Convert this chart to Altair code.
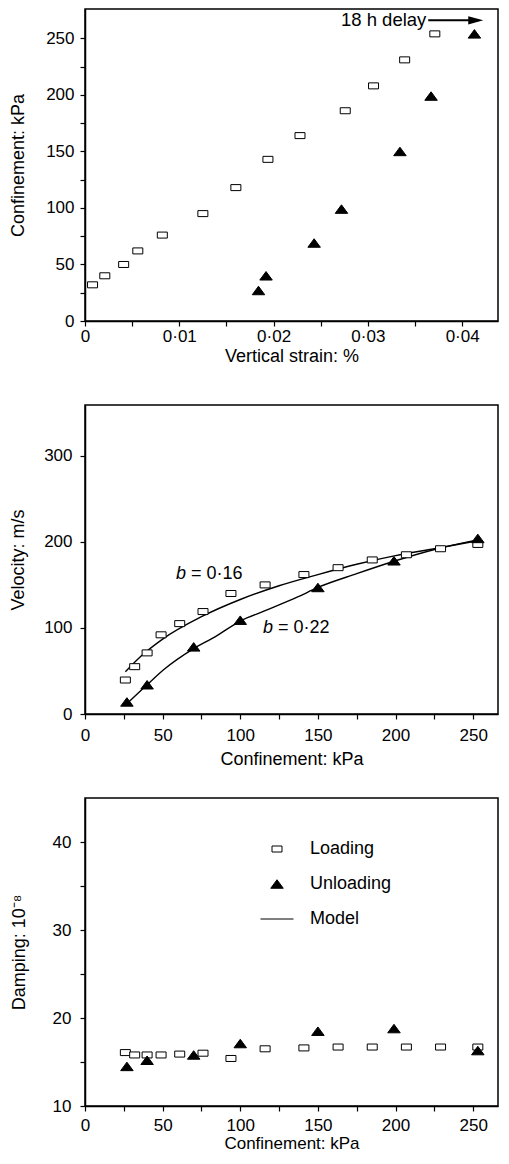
import altair as alt
import pandas as pd

FONT = "Liberation Sans"

# ---------------- data ----------------
series_names = ["Loading", "Unloading", "Model"]

# Panel 1: confinement vs vertical strain
p1_load_strain = [0.0008, 0.0021, 0.0041, 0.0056, 0.0082, 0.0125, 0.0160, 0.0194, 0.0228, 0.0276, 0.0306, 0.0339, 0.0371]
p1_load_conf = [32, 40, 50, 62, 76, 95, 118, 143, 164, 186, 208, 231, 254]
p1_unload_strain = [0.0184, 0.0192, 0.0243, 0.0272, 0.0334, 0.0367, 0.0413]
p1_unload_conf = [27, 40, 69, 99, 150, 199, 254]
delay_label = ["18 h delay"]
delay_text_x = [0.0362]
delay_y = [266]
arrow_start_x = [0.0364]
arrow_end_x = [0.0418]
arrow_head_x = [0.04144]

# Panel 2: velocity vs confinement
load_conf = [26, 32, 40, 49, 61, 76, 94, 116, 141, 163, 185, 207, 229, 253]
load_vel = [39.5, 55, 71, 92, 105, 119, 140, 150, 162, 170, 179, 185, 192, 197]
unload_conf = [27, 40, 70, 100, 150, 199, 253]
unload_vel = [14, 34, 78, 109, 147, 178, 204]
model_load_conf = [26, 36, 50, 75, 100, 125, 150, 175, 200, 225, 252]
model_load_vel = [49, 67, 87, 113, 133, 149, 162, 174, 184, 192, 201]
model_unload_conf = [27, 40, 51, 70, 84, 100, 116, 137, 150, 175, 200, 227, 252]
model_unload_vel = [12, 34, 52, 76, 90, 108, 120, 136, 147, 163, 178, 192, 202]
b_labels = ["= 0·16", "= 0·22"]
b_label_x = [58.6, 114.7]
b_label_y = [157, 94]

# Panel 3: damping vs confinement
load_damp = [16.07, 15.8, 15.8, 15.8, 15.9, 16.0, 15.4, 16.5, 16.6, 16.7, 16.7, 16.7, 16.7, 16.7]
unload_damp = [14.5, 15.2, 15.8, 17.1, 18.5, 18.8, 16.3]

# ---------------- styles ----------------
RECT = "M-1,-0.6H1V0.6H-1Z"
TRI = "M0,-0.85L1.25,0.85L-1.25,0.85Z"
LINE = "M-3.3,0H3.3"
ARROW = "M1,0L-1,-0.55L-1,0.55Z"

PW = 413  # plot width

shape_scale = alt.Scale(domain=series_names, range=[RECT, TRI, LINE])
fill_scale = alt.Scale(domain=series_names, range=["white", "black", "white"])
stroke_scale = alt.Scale(domain=series_names, range=["black", "black", "black"])

minor50 = "datum.value % 50 == 0 ? datum.label : ''"


def pts_df(xa, ya, xb, yb):
    return pd.concat([
        pd.DataFrame({"x": xa, "y": ya, "series": "Loading"}),
        pd.DataFrame({"x": xb, "y": yb, "series": "Unloading"}),
    ], ignore_index=True)


def point_layer(df, X, Y, legend=None):
    return alt.Chart(df).mark_point(filled=True, strokeWidth=1, size=100, opacity=1).encode(
        x=X, y=Y,
        shape=alt.Shape("series:N", scale=shape_scale, legend=legend),
        fill=alt.Fill("series:N", scale=fill_scale, legend=legend),
        stroke=alt.Stroke("series:N", scale=stroke_scale, legend=legend),
    )


# ---------------- panel 1 ----------------
X1 = alt.X("x:Q", scale=alt.Scale(domain=[0, 0.0438], nice=False, zero=False),
           axis=alt.Axis(title="Vertical strain: %",
                         values=[0, 0.005, 0.01, 0.015, 0.02, 0.025, 0.03, 0.035, 0.04],
                         labelExpr="abs(datum.value*100 - round(datum.value*100)) < 0.001 ? (datum.value == 0 ? '0' : replace(format(datum.value, '.2f'), '.', '·')) : ''",
                         labelPadding=2, titlePadding=3))
Y1 = alt.Y("y:Q", scale=alt.Scale(domain=[0, 276], nice=False),
           axis=alt.Axis(title="Confinement: kPa", values=list(range(0, 251, 25)),
                         labelExpr=minor50, labelPadding=6, titlePadding=18))

p1_points = point_layer(pts_df(p1_load_strain, p1_load_conf, p1_unload_strain, p1_unload_conf), X1, Y1)
p1_text = alt.Chart(pd.DataFrame({"x": delay_text_x, "y": delay_y, "t": delay_label})).mark_text(
    align="right", baseline="middle", fontSize=18.5, font=FONT, color="black").encode(x=X1, y=Y1, text="t:N")
p1_arrow = alt.Chart(pd.DataFrame({"x": arrow_start_x, "xe": arrow_end_x, "y": delay_y})).mark_rule(
    color="black", strokeWidth=2).encode(x=X1, x2="xe:Q", y=Y1)
p1_head = alt.Chart(pd.DataFrame({"x": arrow_head_x, "y": delay_y})).mark_point(
    shape=ARROW, size=225, filled=True, color="black", opacity=1).encode(x=X1, y=Y1)
p1 = alt.layer(p1_points, p1_arrow, p1_head, p1_text).properties(width=PW, height=312)

# ---------------- panel 2 ----------------
X2 = alt.X("x:Q", scale=alt.Scale(domain=[0, 266], nice=False),
           axis=alt.Axis(title="Confinement: kPa", values=list(range(0, 251, 25)),
                         labelExpr=minor50, labelPadding=8, titlePadding=7))
Y2 = alt.Y("y:Q", scale=alt.Scale(domain=[0, 359], nice=False),
           axis=alt.Axis(title="Velocity: m/s", values=[0, 100, 200, 300],
                         labelPadding=8, titlePadding=16))

model_df = pd.concat([
    pd.DataFrame({"x": model_load_conf, "y": model_load_vel, "curve": "load"}),
    pd.DataFrame({"x": model_unload_conf, "y": model_unload_vel, "curve": "unload"}),
], ignore_index=True)
p2_lines = alt.Chart(model_df).mark_line(color="black", strokeWidth=1.4, interpolate="monotone").encode(
    x=X2, y=Y2, detail="curve:N")
p2_points = point_layer(pts_df(load_conf, load_vel, unload_conf, unload_vel), X2, Y2)
ann_df = pd.DataFrame({"x": b_label_x, "y": b_label_y, "t": b_labels, "b": ["b", "b"]})
p2_b = alt.Chart(ann_df).mark_text(align="left", baseline="alphabetic", fontSize=18, font=FONT,
                                   fontStyle="italic", color="black").encode(x=X2, y=Y2, text="b:N")
p2_rest = alt.Chart(ann_df).mark_text(align="left", baseline="alphabetic", fontSize=18, font=FONT,
                                      dx=15, color="black").encode(x=X2, y=Y2, text="t:N")
p2 = alt.layer(p2_lines, p2_points, p2_b, p2_rest).properties(width=PW, height=309)

# ---------------- panel 3 ----------------
X3 = alt.X("x:Q", scale=alt.Scale(domain=[0, 266], nice=False),
           axis=alt.Axis(title="Confinement: kPa", values=list(range(0, 251, 25)),
                         labelExpr=minor50, labelPadding=6, titlePadding=2, titleFontSize=17))
Y3 = alt.Y("y:Q", scale=alt.Scale(domain=[10, 45], nice=False, zero=False),
           axis=alt.Axis(title="Damping: 10⁻⁸", values=[10, 15, 20, 25, 30, 35, 40],
                         labelExpr="datum.value % 10 == 0 ? datum.label : ''",
                         labelPadding=9, titlePadding=24))
legend = alt.Legend(orient="none", legendX=183, legendY=42, title=None, labelFontSize=18, labelFont=FONT,
                    labelColor="black", symbolSize=100, symbolStrokeColor="black", symbolStrokeWidth=1,
                    rowPadding=17, labelOffset=24)
p3 = point_layer(pts_df(load_conf, load_damp, unload_conf, unload_damp), X3, Y3, legend=legend).properties(
    width=PW, height=308)

chart = alt.vconcat(p1, p2, p3, spacing=84, bounds="flush").resolve_scale(
    x="independent", y="independent", shape="independent", fill="independent", stroke="independent"
).resolve_legend(shape="independent", fill="independent", stroke="independent").properties(
    padding={"left": 0, "top": 0, "right": 0, "bottom": 0}
).configure(font=FONT).configure_view(stroke="black", strokeWidth=1.5).configure_axis(
    grid=False, domainColor="black", domainWidth=1.5, tickColor="black", tickWidth=1.2, tickSize=5,
    labelColor="black", titleColor="black", labelFontSize=17, titleFontSize=18, labelFont=FONT,
    titleFont=FONT, titleFontWeight="normal", labelFlush=False, labelOverlap=False
)

chart.save("out.html", embed_options={"renderer": "svg", "actions": False})
